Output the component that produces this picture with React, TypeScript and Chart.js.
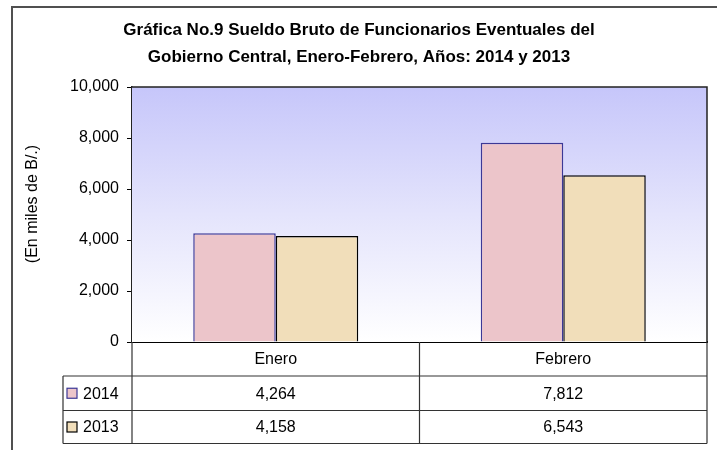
import React, { useEffect, useRef } from "react";
import { Chart, registerables } from "chart.js";

Chart.register(...registerables);

const titleLines = [
  "Gráfica No.9 Sueldo Bruto de Funcionarios Eventuales del",
  "Gobierno Central, Enero-Febrero, Años: 2014 y 2013",
];
const yAxisTitle = "(En miles de B/.)";
const months = ["Enero", "Febrero"];
const seriesLabels = ["2014", "2013"];
const values2014 = [4264, 7812];
const values2013 = [4158, 6543];
const yMax = 10000;
const yStep = 2000;

const FONT = "'Liberation Sans', Arial, sans-serif";
const fill2014 = "rgb(236,197,202)";
const border2014 = "rgb(60,56,150)";
const fill2013 = "rgb(241,222,186)";
const border2013 = "#000000";

const fmt = (v: number) => v.toLocaleString("en-US");

const decorPlugin = {
  id: "decor",
  beforeDatasetsDraw(chart: any) {
    const { ctx, chartArea: a } = chart;
    ctx.save();
    const g = ctx.createLinearGradient(0, a.top, 0, a.bottom);
    g.addColorStop(0, "rgb(198,198,250)");
    g.addColorStop(0.5, "rgb(228,228,252)");
    g.addColorStop(1, "rgb(255,255,255)");
    ctx.fillStyle = g;
    ctx.fillRect(a.left, a.top, a.right - a.left, a.bottom - a.top);
    ctx.restore();
  },
  afterDraw(chart: any) {
    const { ctx, chartArea: a } = chart;
    const xs = chart.scales.x;
    ctx.save();
    // outer border
    ctx.strokeStyle = "#505050";
    ctx.lineWidth = 2;
    ctx.beginPath();
    ctx.moveTo(12, 450);
    ctx.lineTo(12, 7);
    ctx.lineTo(717, 7);
    ctx.stroke();

    // plot border (top & right)
    ctx.strokeStyle = "#222";
    ctx.lineWidth = 1.5;
    ctx.beginPath();
    ctx.moveTo(a.left, a.top);
    ctx.lineTo(a.right, a.top);
    ctx.lineTo(a.right, a.bottom);
    ctx.stroke();

    // title
    ctx.fillStyle = "#000";
    ctx.font = `bold 17px ${FONT}`;
    ctx.textAlign = "center";
    ctx.textBaseline = "middle";
    ctx.fillText(titleLines[0], 359, 30);
    ctx.fillText(titleLines[1], 359, 57);

    // y-axis title
    ctx.save();
    ctx.translate(33, 204);
    ctx.rotate(-Math.PI / 2);
    ctx.font = `16px ${FONT}`;
    ctx.fillText(yAxisTitle, 0, 0);
    ctx.restore();

    // data table
    const legendLeft = 63;
    const rows = [a.bottom, a.bottom + 34, a.bottom + 68.5, a.bottom + 101.5];
    const half = (xs.getPixelForValue(1) - xs.getPixelForValue(0)) / 2;
    const cols = [a.left, ...months.map((_, i) => xs.getPixelForValue(i) + half)];
    ctx.strokeStyle = "#333";
    ctx.lineWidth = 1.2;
    ctx.beginPath();
    cols.forEach((c) => {
      ctx.moveTo(c, rows[0]);
      ctx.lineTo(c, rows[3]);
    });
    ctx.moveTo(legendLeft, rows[1]);
    ctx.lineTo(legendLeft, rows[3]);
    for (let r = 1; r < 4; r++) {
      ctx.moveTo(legendLeft, rows[r]);
      ctx.lineTo(a.right, rows[r]);
    }
    ctx.stroke();

    const series = [values2014, values2013];
    const fills = [fill2014, fill2013];
    const borders = [border2014, border2013];
    ctx.font = `16px ${FONT}`;
    series.forEach((vals, si) => {
      const cy = (rows[si + 1] + rows[si + 2]) / 2;
      ctx.fillStyle = fills[si];
      ctx.fillRect(67, cy - 5, 10, 10);
      ctx.strokeStyle = borders[si];
      ctx.lineWidth = 1.2;
      ctx.strokeRect(67, cy - 5, 10, 10);
      ctx.fillStyle = "#000";
      ctx.textAlign = "left";
      ctx.fillText(seriesLabels[si], 83, cy + 1);
      ctx.textAlign = "center";
      vals.forEach((v, i) => {
        ctx.fillText(fmt(v), xs.getPixelForValue(i), cy + 1);
      });
    });
    ctx.restore();
  },
};

export default function App() {
  const ref = useRef<HTMLCanvasElement>(null);
  useEffect(() => {
    if (!ref.current) return;
    const chart = new Chart(ref.current, {
      type: "bar",
      data: {
        labels: months,
        datasets: [
          {
            label: seriesLabels[0],
            data: values2014,
            backgroundColor: fill2014,
            borderColor: border2014,
            borderWidth: 1.5,
            borderSkipped: "bottom",
          },
          {
            label: seriesLabels[1],
            data: values2013,
            backgroundColor: fill2013,
            borderColor: border2013,
            borderWidth: 1.5,
            borderSkipped: "bottom",
          },
        ],
      },
      options: {
        responsive: false,
        animation: false,
        events: [],
        datasets: { bar: { categoryPercentage: 0.574, barPercentage: 1 } },
        layout: { padding: { top: 87, left: 12, right: 10, bottom: 0 } },
        plugins: {
          legend: { display: false },
          title: { display: false },
          tooltip: { enabled: false },
        },
        scales: {
          x: {
            afterFit: (s: any) => {
              s.height = 108;
            },
            grid: { display: false, drawTicks: false },
            border: { display: true, color: "#000", width: 2 },
            ticks: { font: { family: FONT, size: 16 }, color: "#000", padding: 8 },
          },
          y: {
            min: 0,
            max: yMax,
            afterFit: (s: any) => {
              s.width = 120;
            },
            ticks: {
              stepSize: yStep,
              font: { family: FONT, size: 16 },
              color: "#000",
              padding: 8,
              callback: (v: any) => fmt(Number(v)),
            },
            grid: { drawOnChartArea: false, drawTicks: true, tickLength: 5, color: "#000" },
            border: { display: true, color: "#222", width: 1.5 },
          },
        },
      },
      plugins: [decorPlugin],
    });
    return () => chart.destroy();
  }, []);
  return (
    <div style={{ position: "absolute", left: 0, top: 0, width: 717, height: 450, background: "#fff" }}>
      <canvas ref={ref} width={717} height={450} style={{ display: "block" }} />
    </div>
  );
}
